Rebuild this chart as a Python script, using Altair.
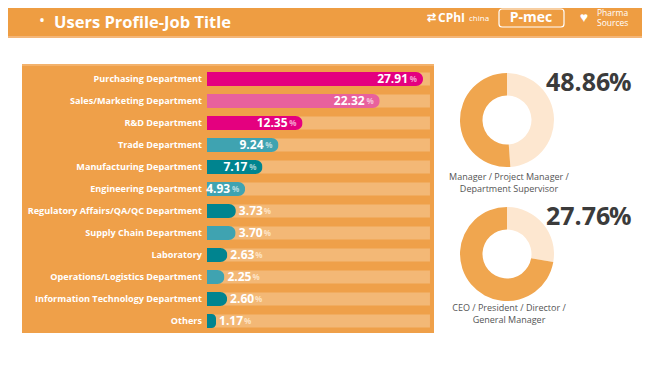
import altair as alt
import pandas as pd

# ---- data ----
depts = [
    "Purchasing Department", "Sales/Marketing Department", "R&D Department",
    "Trade Department", "Manufacturing Department", "Engineering Department",
    "Regulatory Affairs/QA/QC Department", "Supply Chain Department",
    "Laboratory", "Operations/Logistics Department",
    "Information Technology Department", "Others",
]
values = [27.91, 22.32, 12.35, 9.24, 7.17, 4.93, 3.73, 3.70, 2.63, 2.25, 2.60, 1.17]

donut_labels = [["Manager / Project Manager /", "Department Supervisor"],
                ["CEO / President / Director /", "General Manager"]]
donut_values = [48.86, 27.76]

title_text = "Users Profile-Job Title"

# ---- styles ----
FONT = "Open Sans"
MAGENTA, PINK, TEAL_L, TEAL_D = "#e4007f", "#e8619d", "#3fa3b1", "#00848f"
bar_colors = [MAGENTA, PINK, MAGENTA, TEAL_L, TEAL_D, TEAL_L, TEAL_D, TEAL_L,
              TEAL_D, TEAL_L, TEAL_D, TEAL_D]

df = pd.DataFrame({"dept": depts, "value": values})
one = pd.DataFrame({"a": [0]})

xscale = alt.Scale(domain=[0, 27.91], range=[199, 415], nice=False, zero=True)
yscale = alt.Scale(domain=depts, range=[60, 324], paddingInner=0, paddingOuter=0)
X = alt.X("value:Q", scale=xscale, axis=None)
Y = alt.Y("dept:N", scale=yscale, sort=depts, axis=None)

def rect(x, x2, y, y2, **kw):
    return alt.Chart(one).mark_rect(**kw).encode(
        x=alt.value(x), x2=alt.value(x2), y=alt.value(y), y2=alt.value(y2))

def label(txt, x, y, **kw):
    return alt.Chart(one).mark_text(text=txt, font=FONT, **kw).encode(
        x=alt.value(x), y=alt.value(y))

# header
header = rect(0, 634, 0, 28, color="#ee9d42")
header_line = rect(0, 634, 28, 30, color="#f4b678")
bullet = label("•", 34, 13, fontSize=16, color="white", align="center", baseline="middle")
title = label(title_text, 46, 20, fontSize=16.5, fontWeight="bold", color="white",
              align="left", baseline="alphabetic")
cphi_icon = label("⇄", 423, 10, fontSize=11, color="white", align="center", baseline="middle", fontWeight="bold")
cphi = label("CPhI", 430, 10, fontSize=12, fontWeight="bold", color="white", align="left", baseline="middle")
cphi2 = label("china", 461, 11, fontSize=8, color="white", align="left", baseline="middle")
pmec_box = rect(491, 556, 1, 19, fill="#ee9d42", stroke="white", strokeWidth=1.2, cornerRadius=3)
pmec = label("P-mec", 523, 10, fontSize=14, fontWeight="bold", color="white", align="center", baseline="middle")
heart = label("♥", 576, 10, fontSize=14, color="white", align="center", baseline="middle")
ph1 = label("Pharma", 589, 5, fontSize=8.5, color="white", align="left", baseline="middle")
ph2 = label("Sources", 589, 15, fontSize=8.5, color="white", align="left", baseline="middle")

# panel
panel = rect(14, 426, 56, 325, color="#efa049")
panel_glow = rect(14, 426, 56, 58, color="#f3b26c")

tracks = alt.Chart(df).mark_bar(height=13, color="white", opacity=0.25).encode(
    x=alt.X(datum=0, scale=xscale, axis=None), x2=alt.X2(datum=28.81), y=Y)

bars = alt.Chart(df).mark_bar(height=14, cornerRadiusEnd=7).encode(
    x=X, y=Y,
    color=alt.Color("dept:N", scale=alt.Scale(domain=depts, range=bar_colors), legend=None))

names = alt.Chart(df).mark_text(font=FONT, fontSize=9.1, fontWeight="bold", color="white",
                                align="right", baseline="middle").encode(
    x=alt.value(194), y=Y, text="dept:N")

inside = "datum.value >= 4.5"
outside = "datum.value < 4.5"
num_in = alt.Chart(df).transform_filter(inside).mark_text(
    font=FONT, fontSize=12, fontWeight="bold", color="white", align="right",
    baseline="middle", dx=-15).encode(x=X, y=Y, text=alt.Text("value:Q", format=".2f"))
pct_in = alt.Chart(df).transform_filter(inside).mark_text(
    font=FONT, fontSize=8, fontWeight="bold", color="white", opacity=0.6, align="right",
    baseline="middle", dx=-6, dy=1, text="%").encode(x=X, y=Y)
num_out = alt.Chart(df).transform_filter(outside).mark_text(
    font=FONT, fontSize=12, fontWeight="bold", color="white", align="left",
    baseline="middle", dx=3).encode(x=X, y=Y, text=alt.Text("value:Q", format=".2f"))
pct_out = alt.Chart(df).transform_filter(outside).mark_text(
    font=FONT, fontSize=8, fontWeight="bold", color="#fde3c4", align="left",
    baseline="middle", dx=28, dy=1, text="%").encode(x=X, y=Y)

# donuts
def donut(v, cx, cy, caption, cap_y):
    d = pd.DataFrame({"part": ["sel", "rest"], "v": [v, 100 - v], "idx": [0, 1]})
    arc = alt.Chart(d).mark_arc(radius=47, radius2=24.5).encode(
        theta=alt.Theta("v:Q", stack=True),
        order=alt.Order("idx:Q"),
        color=alt.Color("part:N", scale=alt.Scale(domain=["sel", "rest"],
                                                  range=["#fde7d0", "#f0a64f"]), legend=None),
        x=alt.value(cx), y=alt.value(cy))
    big = alt.Chart(d.head(1)).mark_text(font=FONT, fontSize=25, fontWeight="bold",
                                         color="#3b3b3b", align="left",
                                         baseline="alphabetic").encode(
        x=alt.value(538), y=alt.value(cy - 29),
        text=alt.Text("v:Q", format=".2f"))
    big_pct = alt.Chart(d.head(1)).mark_text(font=FONT, fontSize=25, fontWeight="bold",
                                             color="#3b3b3b", align="left",
                                             baseline="alphabetic", text="%").encode(
        x=alt.value(601), y=alt.value(cy - 29))
    cap1 = label(caption[0], cx + 2, cap_y, fontSize=9, color="#555555", align="center",
                 baseline="middle")
    cap2 = label(caption[1], cx + 2, cap_y + 12, fontSize=9, color="#555555", align="center",
                 baseline="middle")
    return [arc, big, big_pct, cap1, cap2]

d1 = donut(donut_values[0], 499, 112, donut_labels[0], 169)
d2 = donut(donut_values[1], 499, 246, donut_labels[1], 300)

chart = alt.layer(
    header, header_line, bullet, title, cphi_icon, cphi, cphi2, pmec_box, pmec, heart, ph1, ph2,
    panel, panel_glow, tracks, bars, names, num_in, pct_in, num_out, pct_out,
    *d1, *d2,
).resolve_scale(color="independent").properties(
    width=634, height=350, autosize=alt.AutoSizeParams(type="none"), padding=0,
    background="white",
).configure_view(strokeWidth=0)

chart.save("out.html", embed_options={"renderer": "svg", "actions": False})
